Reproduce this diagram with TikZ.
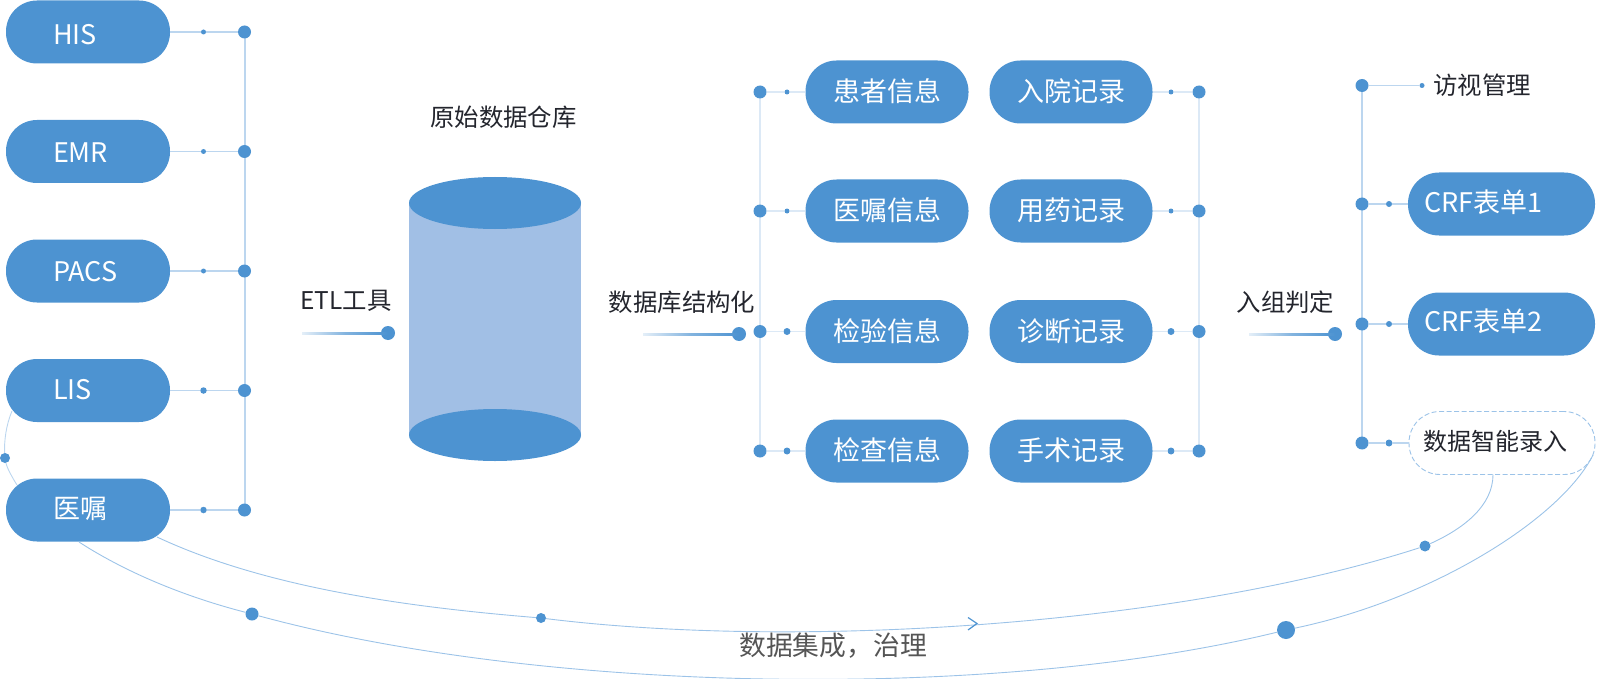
\documentclass[tikz,border=0pt]{standalone}
\usepackage{fontspec}
\setmainfont{Noto Sans CJK SC}
\usetikzlibrary{calc}
\definecolor{pillblue}{HTML}{4D93D1}
\definecolor{bodyblue}{HTML}{A1BFE5}
\definecolor{linemid}{HTML}{BCD6EF}
\definecolor{linepale}{HTML}{DCE9F6}
\definecolor{curveblue}{HTML}{9CC3E8}
\definecolor{inkdark}{HTML}{23252D}
\definecolor{inkgrey}{HTML}{555555}
\tikzset{
  pillbase/.style={rectangle,rounded corners=31pt,minimum height=63pt,inner sep=0pt,text=white,font=\fontsize{27}{27}\selectfont,text height=20pt,text depth=5pt},
  pillleft/.style={pillbase,fill=pillblue,minimum width=164pt,text width=164pt,align=left},
  pillmid/.style={pillbase,fill=pillblue,minimum width=163pt,align=center},
  pillright/.style={pillbase,fill=pillblue,minimum width=187pt,text width=187pt,align=left},
  dashpill/.style={pillbase,draw=curveblue,line width=0.9pt,dash pattern=on 5pt off 2.5pt,fill=white,text=inkdark,minimum width=186pt,font=\fontsize{24}{24}\selectfont},
  bigdot/.style={circle,fill=pillblue,inner sep=0pt,minimum size=13pt},
  smalldot/.style={circle,fill=pillblue,inner sep=0pt,minimum size=6pt},
  arrowdot/.style={circle,fill=pillblue,inner sep=0pt,minimum size=14pt},
  linkmid/.style={draw=linemid,line width=1.2pt},
  linkpale/.style={draw=linepale,line width=1.2pt},
  curveline/.style={draw=curveblue,line width=0.9pt},
  labeltext/.style={text=inkdark,inner sep=0pt,font=\fontsize{24.4}{24.4}\selectfont},
}
\newcommand{\gradbar}[2]{\shade[left color=pillblue!15,right color=pillblue,middle color=pillblue!70] ($(#1)+(0,-1)$) rectangle ($(#2)+(0,1)$);}
\begin{document}
\begin{tikzpicture}[x=1pt,y=-1pt]
\useasboundingbox (0,0) rectangle (1597,679);

% left column
\draw[linkmid] (245,32) coordinate (lbt) -- (245,510) coordinate (lbb);
\foreach \n/\t/\y/\o/\s in {his/HIS/32/-5/5,emr/EMR/151.5/-4/5,pacs/PACS/271/-2.5/5,lis/LIS/390.5/-1.5/6.5,yz/医嘱/510/-1/6.5}{
  \node[pillleft] (\n) at (88,\y) {\hspace*{47pt}\raisebox{\o pt}{\t}};
  \node[bigdot] (\n J) at (244.5,\y) {};
  \node[smalldot,minimum size=\s pt] (\n S) at (203.5,\y) {};
  \draw[linkmid] (\n) -- (\n S);
  \draw[linkmid] (\n S) -- (\n J);
}

% cylinder
\fill[bodyblue] (409,203) rectangle (581,435);
\fill[pillblue] (495,203) ellipse[x radius=86,y radius=26];
\fill[pillblue] (495,435) ellipse[x radius=86,y radius=26];
\node[labeltext] (wh) at (503.5,117) {原始数据仓库};

% arrow labels
\node[labeltext] (etl) at (346,301) {ETL工具};
\node[arrowdot] (etlD) at (388,333) {};
\coordinate (etlS) at (302,333);
\gradbar{etlS}{etlD}
\node[labeltext] (jg) at (682,302) {数据库结构化};
\node[arrowdot] (jgD) at (739,334) {};
\coordinate (jgS) at (643,334);
\gradbar{jgS}{jgD}
\node[labeltext] (rz) at (1285.5,302) {入组判定};
\node[arrowdot] (rzD) at (1335,334) {};
\coordinate (rzS) at (1249,334);
\gradbar{rzS}{rzD}

% middle columns
\draw[linkpale] (760,92) -- (760,451);
\draw[linkpale] (1199,92) -- (1199,451);
\foreach \n/\t/\m/\u/\y/\s in {a/患者信息/p/入院记录/92/5,b/医嘱信息/q/用药记录/211/5,c/检验信息/r/诊断记录/331.5/7,d/检查信息/s/手术记录/451/7}{
  \node[pillmid] (\n) at (887,\y) {\raisebox{-2pt}{\t}};
  \node[bigdot] (\n J) at (760,\y) {};
  \node[smalldot,minimum size=\s pt] (\n S) at (787,\y) {};
  \draw[linkpale] (\n J) -- (\n S);
  \draw[linkpale] (\n S) -- (\n);
  \node[pillmid] (\m) at (1071,\y) {\raisebox{-2pt}{\u}};
  \node[bigdot] (\m J) at (1199,\y) {};
  \node[smalldot,minimum size=\s pt] (\m S) at (1171,\y) {};
  \draw[linkpale] (\m) -- (\m S);
  \draw[linkpale] (\m S) -- (\m J);
}

% right column
\draw[linkmid] (1362,85.5) -- (1362,443);
\node[bigdot] (vJ) at (1362,85.5) {};
\node[smalldot,minimum size=5pt] (vS) at (1422,85.5) {};
\node[labeltext] (vT) at (1482,85.5) {访视管理};
\draw[linkmid] (vJ) -- (vS);
\foreach \n/\t/\y/\o in {f/CRF表单1/204/-1,g/CRF表单2/324/0}{
  \node[pillright] (\n) at (1501.5,\y) {\hspace*{16pt}\raisebox{\o pt}{\t}};
  \node[bigdot] (\n J) at (1362,\y) {};
  \node[smalldot] (\n S) at (1389,\y) {};
  \draw[linkmid] (\n J) -- (\n S);
  \draw[linkmid] (\n S) -- (\n);
}
\node[dashpill] (h) at (1502,443) {\hspace*{-14pt}数据智能录入};
\node[bigdot] (hJ) at (1362,443) {};
\node[smalldot,minimum size=7pt] (hS) at (1389,443) {};
\draw[linkmid] (hJ) -- (hS);
\draw[linkmid] (hS) -- (h);

% curves
\node[smalldot,minimum size=10pt] (arcD) at (5,458) {};
\draw[curveline,draw=linemid] (12,411) .. controls (6,425) and (4,442) .. (arcD);
\draw[curveline,draw=linemid] (arcD) .. controls (7,468) and (12,477) .. (17,485);

\node[smalldot,minimum size=10pt] (d1) at (541,618) {};
\node[smalldot,minimum size=11pt] (d2) at (1425,546) {};
\node[bigdot] (d3) at (252,614) {};
\node[circle,fill=pillblue,inner sep=0pt,minimum size=18pt] (d4) at (1286,630) {};
\coordinate (c1s) at (157,537);
\coordinate (c1e) at (1493,474.5);
\coordinate (c2s) at (79,542);
\coordinate (c2e) at (1593,455);
\draw[curveline] (c1s) .. controls (270,590) and (420,608) .. (d1);
\draw[curveline] (d1) .. controls (800,650) and (1180,625) .. (d2);
\draw[curveline] (d2) .. controls (1465,528) and (1493,505) .. (c1e);
\draw[curveline] (c2s) .. controls (130,575) and (190,598) .. (d3);
\draw[curveline] (d3) .. controls (550,695) and (1000,700) .. (d4);
\draw[curveline] (d4) .. controls (1430,600) and (1560,520) .. (c2e);
\draw[draw=pillblue,line width=1.2pt] (968,617.5) -- (977,623.5) -- (968,630);
\node[text=inkgrey,inner sep=0pt,font=\fontsize{26.8}{26.8}\selectfont] (zl) at (833,646) {数据集成，治理};
\end{tikzpicture}
\end{document}
